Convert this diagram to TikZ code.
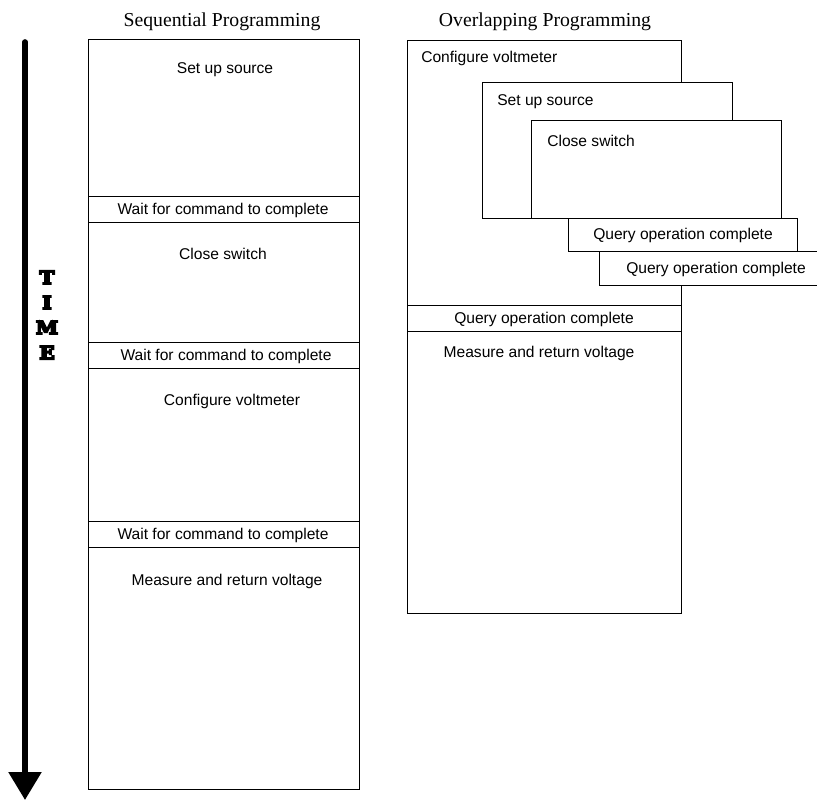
\documentclass[tikz,border=0pt]{standalone}
\usepackage{fontspec}
\setmainfont{Liberation Sans}
\newfontfamily\titlefont{Liberation Serif}
\newfontfamily\timefont[FakeStretch=1.12]{DejaVu Serif Bold}
\usetikzlibrary{arrows.meta}
% heavy outlined lettering for the time axis
\newcommand{\heavytext}[1]{\special{pdf:literal direct 2 Tr 1.3 w}#1\special{pdf:literal direct 0 Tr}}
\begin{document}
\begin{tikzpicture}[x=0.75pt,y=-0.75pt,
  blk/.style 2 args={draw=black, line width=0.6pt, fill=white, anchor=north west,
    inner sep=0pt, minimum width=#1*0.75pt, minimum height=#2*0.75pt},
  lbl/.style={font=\fontsize{11.7pt}{14pt}\selectfont, inner sep=0pt},
  ttl/.style={font=\titlefont\fontsize{14.8pt}{17pt}\selectfont, inner sep=0pt}]
\clip (0,0) rectangle (817,802);

% column headings
\node[ttl] (seqtitle) at (222,22) {Sequential Programming};
\node[ttl] (ovltitle) at (545,22) {Overlapping Programming};

% time axis
\coordinate (ttop) at (25,42);
\coordinate (tbot) at (25,800);
\draw[line width=4.2pt, line cap=round, -{Triangle[width=24pt,length=21pt]}] (ttop) -- (tbot);
\node[font=\timefont\fontsize{13.5pt}{18.8pt}\selectfont, align=center, inner sep=0pt]
  (timelabel) at (47,315) {\heavytext{T}\\\heavytext{I}\\\heavytext{M}\\\heavytext{E}};

% sequential column
\node[blk={271}{157}] (s1) at (88,39) {};
\node[blk={271}{26}]  (w1) at (88,196) {};
\node[blk={271}{120}] (s2) at (88,222) {};
\node[blk={271}{26}]  (w2) at (88,342) {};
\node[blk={271}{153}] (s3) at (88,368) {};
\node[blk={271}{26}]  (w3) at (88,521) {};
\node[blk={271}{242}] (s4) at (88,547) {};

\node[lbl] (s1t) at (225,70)  {Set up source};
\node[lbl] (w1t) at (223,210) {Wait for command to complete};
\node[lbl] (s2t) at (223,254) {Close switch};
\node[lbl] (w2t) at (226,356) {Wait for command to complete};
\node[lbl] (s3t) at (232,401) {Configure voltmeter};
\node[lbl] (w3t) at (223,535) {Wait for command to complete};
\node[lbl] (s4t) at (227,581) {Measure and return voltage};

% overlapping column
\node[blk={274}{265}] (o1) at (407,40) {};
\node[blk={274}{26}]  (oq) at (407,305) {};
\node[blk={274}{282}] (o2) at (407,331) {};
\node[blk={250}{136}] (osrc) at (482,82) {};
\node[blk={250}{98}]  (osw) at (531,120) {};
\node[blk={229}{33}]  (oq1) at (568,218) {};
\node[blk={229}{34}]  (oq2) at (599,251) {};

\node[lbl, anchor=west] (o1t)   at (421,58)  {Configure voltmeter};
\node[lbl, anchor=west] (osrct) at (497,102) {Set up source};
\node[lbl, anchor=west] (oswt)  at (547,141) {Close switch};
\node[lbl] (oq1t) at (683,235) {Query operation complete};
\node[lbl] (oq2t) at (716,269) {Query operation complete};
\node[lbl] (oqt)  at (544,319) {Query operation complete};
\node[lbl] (o2t)  at (539,353) {Measure and return voltage};
\end{tikzpicture}
\end{document}
